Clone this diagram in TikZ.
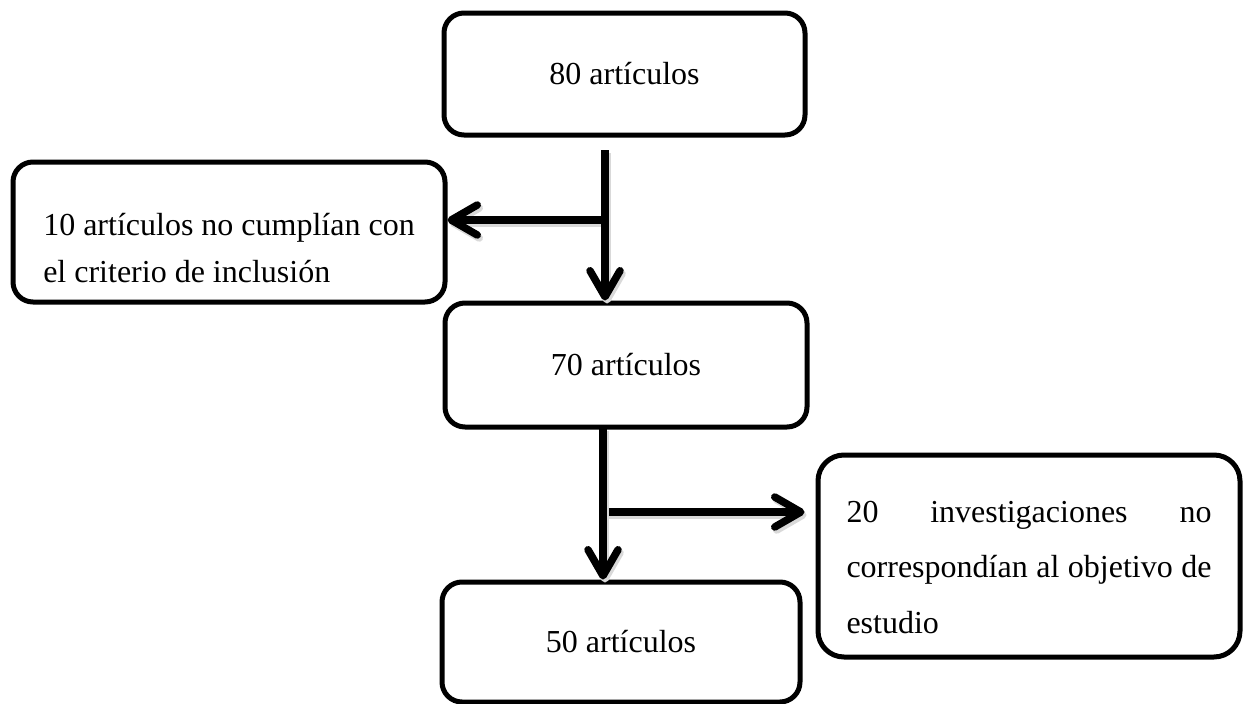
\documentclass[tikz,border=0pt]{standalone}
\usepackage{fontspec}
\setmainfont{Liberation Serif}
\usetikzlibrary{arrows.meta,calc}
\tikzset{
  box/.style={draw=black, line width=5pt, rounded corners=20pt, fill=white,
    font=\fontsize{32}{38}\selectfont, align=center, inner sep=0pt},
  flow/.style={line width=7.5pt, -{Straight Barb[length=26pt,width=30pt,round]},
    preaction={draw=black!15, line width=7.5pt, transform canvas={shift={(2pt,-3pt)}}}},
}
\begin{document}
\begin{tikzpicture}[x=1pt,y=-1pt]
\fill[white] (0,0) rectangle (1248,704);
\useasboundingbox (0,0) rectangle (1248,704);

\node[box, minimum width=361pt, minimum height=122pt] (b1) at (624.5,74) {80 artículos};
\node[box, minimum width=362pt, minimum height=124pt] (b3) at (626,365) {70 artículos};
\node[box, minimum width=358pt, minimum height=120pt] (b5) at (621,642) {50 artículos};

\node[box, minimum width=432pt, minimum height=140pt, align=left,
  font=\fontsize{32}{47}\selectfont] (b2) at (229,232)
  {\rule{0pt}{63pt}10 artículos no cumplían con\\el criterio de inclusión\rule[-10pt]{0pt}{10pt}};

\node[box, rounded corners=26pt, minimum width=422pt, minimum height=202pt, text width=365pt,
  align=justify, inner xsep=28.5pt, font=\fontsize{32}{55.5}\selectfont] (b4) at (1029,556)
  {\tolerance=10000\hyphenpenalty=10000\relax
   \rule{0pt}{53pt}20 investigaciones no\linebreak correspondían al objetivo de\linebreak estudio\rule[-10pt]{0pt}{10pt}};

\coordinate (s1) at (605,150);
\coordinate (j1) at (605,220);
\coordinate (j2) at (603,512);

\draw[flow] (j1) -- (j1 -| b2.east);
\draw[flow] (s1) -- (s1 |- b3.north);

\draw[flow] (j2) -- ($(j2 -| b4.west)+(-11,0)$);
\draw[flow, shorten <=-2pt] (b3.south -| j2) -- (b5.north -| j2);
\end{tikzpicture}
\end{document}
